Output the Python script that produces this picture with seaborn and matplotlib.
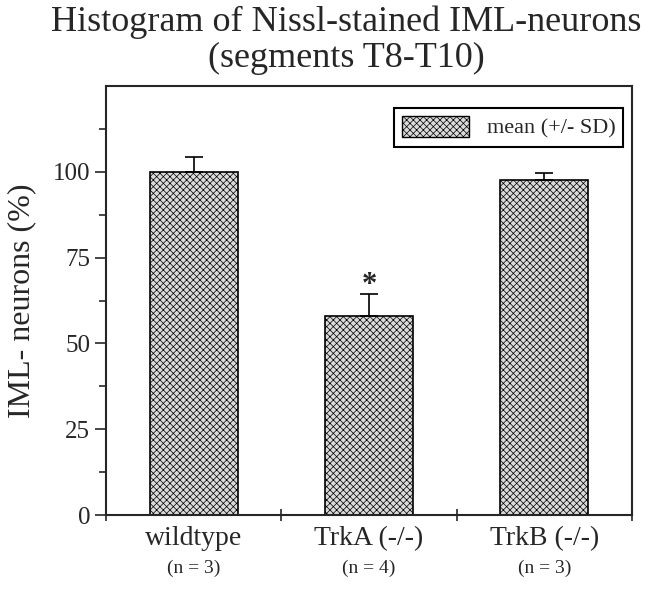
import matplotlib
matplotlib.use("Agg")
import matplotlib.pyplot as plt
import seaborn as sns
import pandas as pd
from matplotlib.patches import Patch

# data
groups = ["wildtype", "TrkA (-/-)", "TrkB (-/-)"]
n_labels = ["(n = 3)", "(n = 4)", "(n = 3)"]
means = [100.0, 58.0, 97.5]
sds = [4.3, 6.4, 2.2]
star_group = 1

sns.set_style("ticks")
plt.rcParams["font.family"] = ["Liberation Serif", "DejaVu Serif"]
plt.rcParams["hatch.linewidth"] = 0.5
plt.rcParams["hatch.color"] = "#8c8c8c"

fill = "#dadada"
hatch_col = "#8c8c8c"

df = pd.DataFrame({"group": groups, "mean": means})

fig = plt.figure(figsize=(6.48, 5.89), dpi=100)
ax = fig.add_axes([0.1636, 0.1256, 0.8117, 0.7284])

sns.barplot(data=df, x="group", y="mean", color=fill, width=0.5,
            errorbar=None, ax=ax, saturation=1)
for bar in ax.patches:
    bar.set_edgecolor("black")
    bar.set_linewidth(1.2)
    bar.set_hatch("xxxxx")
    if hasattr(bar, "set_hatchcolor"):
        bar.set_hatchcolor(hatch_col)

ax.errorbar(range(len(groups)), means, yerr=[[0] * len(sds), sds], fmt="none",
            ecolor="black", elinewidth=1.2, capsize=6.5, capthick=1.2)

ax.text(star_group, means[star_group] + sds[star_group] + 2.5, "*",
        ha="center", va="center", fontsize=22, fontweight="bold")

# axes, ticks
ax.set_xlim(-0.5, 2.5)
ax.set_ylim(0, 125)
ax.set_yticks([0, 25, 50, 75, 100])
ax.set_yticks([12.5, 37.5, 62.5, 87.5, 112.5], minor=True)
ax.tick_params(axis="y", which="major", length=8, width=1.2, labelsize=18, direction="out")
ax.tick_params(axis="y", which="minor", length=5, width=1.2, direction="out")
ax.set_xticks([-0.5, 0.5, 1.5, 2.5])
ax.set_xticklabels([])
ax.set_xticks([0, 1, 2], minor=True)
ax.set_xticklabels(groups, minor=True)
ax.tick_params(axis="x", which="major", length=8, width=1.2, direction="inout")
ax.tick_params(axis="x", which="minor", length=0, labelsize=20, pad=8)
for s in ax.spines.values():
    s.set_linewidth(1.5)
    s.set_visible(True)

for i, lab in enumerate(n_labels):
    ax.text(i, -0.125, lab, transform=ax.get_xaxis_transform(), ha="center",
            va="center", fontsize=14)

ax.set_xlabel("")
ax.set_ylabel("IML- neurons (%)", fontsize=23, labelpad=12)

handle = Patch(facecolor=fill, edgecolor="black", hatch="xxxxx", linewidth=1.0)
if hasattr(handle, "set_hatchcolor"):
    handle.set_hatchcolor(hatch_col)
leg = ax.legend([handle], ["mean (+/- SD)"], loc="upper right",
                bbox_to_anchor=(0.983, 0.949), borderaxespad=0, fancybox=False,
                framealpha=1, edgecolor="black", fontsize=16, handlelength=3,
                handleheight=1.1, borderpad=0.35)
leg.get_frame().set_linewidth(1.5)

fig.text(0.534, 0.962, "Histogram of Nissl-stained IML-neurons", ha="center",
         va="center", fontsize=26)
fig.text(0.534, 0.9, "(segments T8-T10)", ha="center", va="center", fontsize=26)

fig.savefig("out.png", dpi=100)
